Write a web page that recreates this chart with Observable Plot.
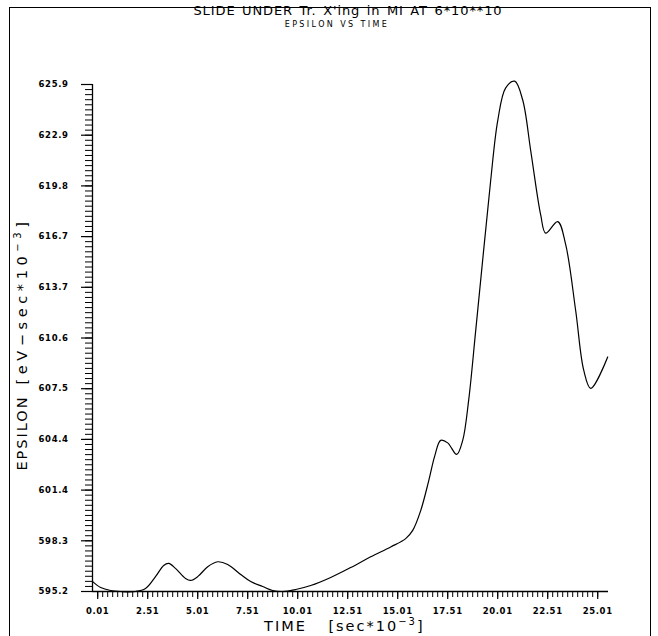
<!DOCTYPE html>
<html>
<head>
<meta charset="utf-8">
<script src="https://cdn.jsdelivr.net/npm/d3@7"></script>
<script src="https://cdn.jsdelivr.net/npm/@observablehq/plot@0.6"></script>
<style>
  html, body { margin: 0; padding: 0; background: #fff; }
  #wrap { position: relative; width: 658px; height: 636px; overflow: hidden; font-family: "DejaVu Sans", sans-serif; }
  #frame { position: absolute; left: 9px; top: 7px; width: 642px; height: 640px; border-left: 1.6px solid #000; border-top: 1.6px solid #000; border-right: 1.6px solid #000; box-sizing: border-box; }
  #title { position: absolute; top: 3px; left: 0; width: 696px; text-align: center; font-size: 13px; letter-spacing: 0.9px; word-spacing: 1.5px; color: #000; }
  #subtitle { position: absolute; top: 20px; left: 0; width: 674px; text-align: center; font-size: 8px; letter-spacing: 2.4px; color: #000; }
  #chart { position: absolute; left: 0; top: 0; }
</style>
</head>
<body>
<div id="wrap">
  <div id="frame"></div>
  <div id="title">SLIDE UNDER Tr. X'ing in MI AT 6*10**10</div>
  <div id="subtitle">EPSILON VS TIME</div>
  <div id="chart"></div>
</div>
<script>
// ---- data ----
const timeVals = [-0.24, 0.16, 0.66, 1.16, 1.9, 2.4, 2.9, 3.31, 3.56, 3.9, 4.4, 4.66, 5.01, 5.51, 6.01, 6.51, 7.16, 7.66, 8.26, 8.76, 9.26, 9.91, 10.66, 11.66, 12.66, 13.66, 14.66, 15.41, 15.76, 16.16, 16.56, 16.86, 17.16, 17.51, 17.96, 18.26, 18.56, 18.91, 19.31, 19.66, 20.01, 20.41, 20.86, 21.26, 21.66, 22.16, 22.41, 23.01, 23.41, 23.91, 24.31, 24.66, 25.51];
const epsVals = [595.8, 595.44, 595.26, 595.2, 595.2, 595.38, 596.1, 596.78, 596.9, 596.6, 595.99, 595.87, 596.1, 596.7, 597.0, 596.84, 596.23, 595.8, 595.5, 595.26, 595.2, 595.32, 595.56, 596.05, 596.65, 597.3, 597.9, 598.4, 598.9, 600.1, 601.9, 603.4, 604.35, 604.2, 603.5, 604.35, 606.8, 611.0, 615.9, 620.1, 623.7, 625.7, 626.1, 624.96, 621.9, 618.0, 616.9, 617.6, 616.2, 612.2, 608.6, 607.5, 609.4];

const xTicks = [0.01, 2.51, 5.01, 7.51, 10.01, 12.51, 15.01, 17.51, 20.01, 22.51, 25.01];
const xTickLabels = ["0.01", "2.51", "5.01", "7.51", "10.01", "12.51", "15.01", "17.51", "20.01", "22.51", "25.01"];
const yTicks = [595.2, 598.27, 601.34, 604.41, 607.48, 610.55, 613.62, 616.69, 619.76, 622.83, 625.9];
const yTickLabels = ["595.2", "598.3", "601.4", "604.4", "607.5", "610.6", "613.7", "616.7", "619.8", "622.9", "625.9"];

const xLabelName = "TIME";
const xLabelUnit = "[sec*10-3]";
const yLabelName = "EPSILON";
const yLabelUnit = "[eV-sec*10-3]";

const data = timeVals.map((t, i) => ({time: t, eps: epsVals[i]}));
const xMinor = d3.range(0, 101).map(k => 0.01 + k * 0.25);
const yMinor = d3.range(0, 101).map(k => 595.2 + k * 0.307);
const xFmt = new Map(xTicks.map((v, i) => [v, xTickLabels[i]]));
const yFmt = new Map(yTicks.map((v, i) => [v, yTickLabels[i]]));

const chart = Plot.plot({
  width: 658,
  height: 636,
  marginLeft: 92,
  marginRight: 50,
  marginTop: 84,
  marginBottom: 45,
  style: {fontFamily: "DejaVu Sans, sans-serif", background: "transparent", color: "#000"},
  x: {domain: [-0.25, 25.55]},
  y: {domain: [595.2, 625.9]},
  marks: [
    Plot.axisX(xMinor, {tickSize: 6, tickFormat: () => "", label: null, strokeWidth: 1}),
    Plot.axisX(xTicks, {tickSize: 8, tickPadding: 8, tickFormat: d => xFmt.get(d), label: null, fontSize: 8.5, fontWeight: 600, strokeWidth: 1.2}),
    Plot.axisY(yMinor, {tickSize: 7, tickFormat: () => "", label: null, strokeWidth: 1}),
    Plot.axisY(yTicks, {tickSize: 11, tickPadding: 13, tickFormat: d => yFmt.get(d), label: null, fontSize: 8.5, fontWeight: 600, strokeWidth: 1.2}),
    Plot.ruleX([-0.25], {stroke: "#000", strokeWidth: 1.3}),
    Plot.ruleY([595.2], {stroke: "#000", strokeWidth: 1.3}),
    Plot.line(data, {x: "time", y: "eps", curve: "catmull-rom", stroke: "#000", strokeWidth: 1.2}),
    Plot.text([xLabelName], {frameAnchor: "bottom", textAnchor: "middle", dx: -65, dy: 39, fontSize: 14.5, text: d => d}),
    Plot.text([xLabelUnit], {frameAnchor: "bottom", textAnchor: "middle", dx: 26, dy: 39, fontSize: 14.5, text: d => d}),
    Plot.text([yLabelName], {frameAnchor: "left", textAnchor: "middle", dx: -70, dy: 95, rotate: -90, fontSize: 14.5, text: d => d}),
    Plot.text([yLabelUnit], {frameAnchor: "left", textAnchor: "middle", dx: -70, dy: -37, rotate: -90, fontSize: 14.5, text: d => d})
  ]
});
// styling only: letter spacing and raised exponent in the unit labels
const spacing = new Map([[xLabelName, "2px"], [xLabelUnit, "2px"], [yLabelName, "2px"], [yLabelUnit, "4.6px"]]);
d3.select(chart).selectAll("text").each(function() {
  const txt = this.textContent;
  const s = spacing.get(txt);
  if (s) this.style.letterSpacing = s;
  else if (xTickLabels.includes(txt) || yTickLabels.includes(txt)) this.style.letterSpacing = "0.6px";
  if (txt === xLabelUnit || txt === yLabelUnit) {
    const base = txt.slice(0, txt.length - 3).replace("-", "\u2212");
    const t = d3.select(this);
    t.text(null);
    t.append("tspan").text(base);
    t.append("tspan").attr("dy", "-6px").attr("font-size", "10px").text("\u22123");
    t.append("tspan").attr("dy", "6px").text("]");
  }
});
document.getElementById("chart").appendChild(chart);
</script>
</body>
</html>
